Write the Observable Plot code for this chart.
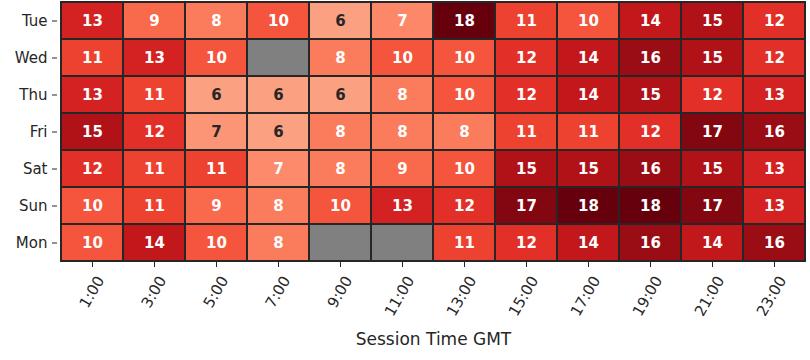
<!DOCTYPE html>
<html>
<head>
<meta charset="utf-8">
<script src="https://cdn.jsdelivr.net/npm/d3@7"></script>
<script src="https://cdn.jsdelivr.net/npm/@observablehq/plot@0.6"></script>
<style>
  html, body { margin: 0; padding: 0; background: #fff; }
</style>
</head>
<body>
<div id="chart"></div>
<script>
const hours = ["1:00","3:00","5:00","7:00","9:00","11:00","13:00","15:00","17:00","19:00","21:00","23:00"];
const days = ["Tue","Wed","Thu","Fri","Sat","Sun","Mon"];
// Estimated underlying values (labels are rounded); null = no data
const tue = [13, 9, 8, 10, 6, 7.3, 18, 11, 10, 14, 15, 12];
const wed = [11, 13, 10, null, 8, 10, 10, 12, 14, 16, 15, 12];
const thu = [13, 11, 6, 6, 6, 8, 10, 12, 14, 15, 12, 13];
const fri = [15, 12, 6.6, 6, 8, 8, 8, 11, 11, 12, 17, 16];
const sat = [12, 11, 11, 7.2, 8, 9, 10, 15, 15, 16, 15, 13];
const sun = [10, 11, 9, 8, 10, 13, 12, 17, 18, 18, 17, 13];
const mon = [10, 14, 10, 8, null, null, 11, 12, 14, 16, 14, 16];
const rows = [tue, wed, thu, fri, sat, sun, mon];

const data = [];
days.forEach((d, i) => hours.forEach((h, j) => data.push({day: d, hour: h, v: rows[i][j]})));
const present = data.filter(d => d.v != null);
const missing = data.filter(d => d.v == null);

const vmin = 0, vmax = 18;
function lum(c) {
  const rgb = d3.rgb(c);
  const f = x => { x /= 255; return x <= 0.03928 ? x / 12.92 : Math.pow((x + 0.055) / 1.055, 2.4); };
  return 0.2126 * f(rgb.r) + 0.7152 * f(rgb.g) + 0.0722 * f(rgb.b);
}
const textColor = d => lum(d3.interpolateReds((d.v - vmin) / (vmax - vmin))) > 0.408 ? "#262626" : "#ffffff";

const chart = Plot.plot({
  width: 810,
  height: 360,
  marginLeft: 57,
  marginRight: 1,
  marginTop: 1,
  marginBottom: 98,
  style: {fontFamily: "DejaVu Sans", fontSize: "14px", color: "#262626", background: "#fff"},
  x: {domain: hours, padding: 0, label: null},
  y: {domain: days, padding: 0, label: null},
  color: {type: "linear", scheme: "reds", domain: [vmin, vmax]},
  marks: [
    Plot.cell(missing, {x: "hour", y: "day", fill: "#808080", stroke: "#262626", strokeWidth: 2}),
    Plot.cell(present, {x: "hour", y: "day", fill: "v", stroke: "#262626", strokeWidth: 2}),
    Plot.text(present, {x: "hour", y: "day", text: d => String(Math.round(d.v)), fill: textColor, fontWeight: "bold", fontSize: 15}),
    Plot.axisX({tickSize: 5, tickFormat: () => "", label: null}),
    Plot.axisX({tickRotate: -60, tickSize: 0, tickPadding: 15, dx: 8, fontSize: 15, label: "Session Time GMT", labelAnchor: "center", labelArrow: "none", labelOffset: 82}),
    Plot.axisY({tickSize: 5, tickPadding: 5, fontSize: 15, label: null})
  ]
});
document.getElementById("chart").appendChild(chart);
chart.querySelectorAll("g[aria-label='x-axis tick label'], g[aria-label='y-axis tick label']").forEach(g => {
  g.setAttribute("font-size", "15");
  g.querySelectorAll("text").forEach(t => t.style.fontSize = "15px");
});
chart.querySelectorAll("g[aria-label='x-axis label']").forEach(g => {
  g.setAttribute("font-size", "17");
  g.querySelectorAll("text").forEach(t => t.style.fontSize = "17px");
});
</script>
</body>
</html>
